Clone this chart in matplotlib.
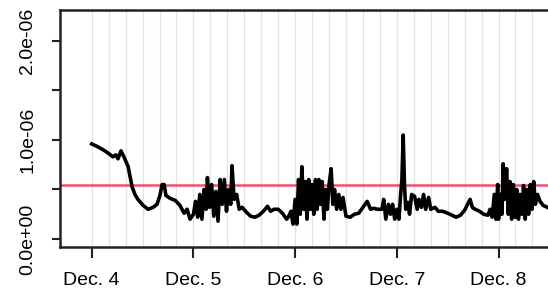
import numpy as np
import matplotlib
matplotlib.use('Agg')
from matplotlib import pyplot as plt

plt.rcParams['font.family'] = ['Liberation Sans', 'DejaVu Sans']

# hours after midnight of each day, values in units of 1e-7
dec4_hours = [0.0, 1.5, 3.1, 4.1, 5.0, 5.7, 6.2, 6.9, 7.6, 8.6, 9.5, 10.2, 10.9, 12.1, 13.3,
              14.5, 15.4, 16.1, 16.6, 17.1, 17.5, 18.5, 19.7, 20.8, 21.8, 22.5, 23.2]
dec4_vals = [9.6, 9.3, 8.9, 8.6, 8.3, 8.5, 8.1, 8.9, 8.3, 7.3, 5.3, 4.5, 4.0, 3.4, 3.0,
             3.2, 3.5, 4.4, 5.5, 5.5, 4.4, 4.1, 3.9, 3.4, 2.6, 3.0, 2.0]

dec5_hours = [0.0, 0.5, 1.0, 1.5, 2.0, 2.5, 3.0, 3.3, 3.8, 4.3, 4.8, 5.3, 5.8, 6.3, 6.8, 7.3,
              7.8, 8.3, 8.8, 9.1, 9.6, 10.2, 10.8, 11.5, 12.5, 13.5, 14.5, 15.5, 16.5, 17.5,
              18.2, 19.0, 20.0, 21.0, 22.0, 22.5, 23.0, 23.5]
dec5_vals = [2.5, 3.8, 2.2, 4.5, 2.0, 5.0, 3.0, 6.2, 3.2, 5.5, 2.3, 4.8, 1.8, 6.0, 3.5, 6.0,
             2.8, 5.0, 3.5, 7.4, 4.0, 4.5, 3.0, 3.2, 2.7, 2.3, 2.2, 2.4, 2.8, 3.3,
             2.8, 3.0, 3.0, 2.6, 2.0, 2.3, 2.8, 1.5]

dec6_hours = [0.0, 0.4, 0.8, 1.2, 1.6, 2.0, 2.4, 2.8, 3.2, 3.6, 4.0, 4.4, 4.8, 5.2, 5.6, 6.0,
              6.4, 6.8, 7.2, 7.6, 8.0, 8.5, 8.9, 9.3, 9.8, 10.3, 10.8, 11.3, 12.0, 13.0,
              14.0, 15.0, 16.0, 17.0, 17.8, 18.5, 19.5, 20.5, 20.9, 21.4, 22.0, 22.5, 23.0, 23.5]
dec6_vals = [4.0, 1.5, 6.0, 2.5, 7.3, 3.0, 5.8, 2.0, 6.0, 3.0, 5.5, 2.5, 6.0, 3.0, 6.0, 3.5,
             5.8, 2.0, 5.0, 3.0, 5.5, 7.1, 3.5, 5.0, 3.0, 4.5, 3.0, 4.2, 2.3, 2.2,
             2.5, 2.6, 3.2, 3.8, 3.0, 3.1, 3.0, 3.0, 4.0, 2.0, 3.5, 2.5, 3.5, 2.0]

dec7_hours = [0.0, 0.5, 0.9, 1.2, 1.5, 1.8, 2.1, 2.6, 3.0, 3.5, 4.2, 4.8, 5.2, 5.8, 6.3, 6.8,
              7.5, 8.0, 9.0, 9.8, 10.8, 12.0, 13.0, 14.0, 15.0, 16.0, 16.8, 17.3, 17.8, 18.5,
              19.5, 20.5, 21.5, 22.0, 22.5, 23.0, 23.4, 23.8]
dec7_vals = [3.0, 2.0, 4.5, 6.0, 10.5, 5.5, 3.0, 3.7, 2.5, 4.5, 4.3, 3.0, 4.0, 3.2, 4.5, 3.0,
             4.2, 3.0, 3.2, 2.8, 2.8, 2.6, 2.4, 2.2, 2.4, 2.9, 3.6, 4.0, 3.2, 3.0,
             2.8, 2.5, 2.4, 3.0, 2.2, 4.5, 2.0, 5.5]

dec8_hours = [0.0, 0.4, 0.8, 1.1, 1.5, 1.9, 2.3, 2.7, 3.1, 3.5, 3.9, 4.3, 4.7, 5.1, 5.5, 5.9,
              6.3, 6.7, 7.1, 7.5, 7.9, 8.3, 8.7, 9.2, 9.8, 10.5, 11.5]
dec8_vals = [2.0, 4.5, 2.5, 7.6, 4.0, 7.1, 2.5, 5.8, 2.0, 5.5, 2.2, 5.0, 2.0, 4.5, 2.5, 5.4,
             2.0, 5.0, 2.5, 5.5, 3.0, 5.8, 3.5, 4.5, 3.8, 3.4, 3.2]

threshold = 5.5e-7
day_labels = ['Dec. 4', 'Dec. 5', 'Dec. 6', 'Dec. 7', 'Dec. 8']

days = [(dec4_hours, dec4_vals), (dec5_hours, dec5_vals), (dec6_hours, dec6_vals),
        (dec7_hours, dec7_vals), (dec8_hours, dec8_vals)]
t = np.concatenate([d + np.array(h) / 24.0 for d, (h, v) in enumerate(days)])
y = np.concatenate([np.array(v) * 1e-7 for h, v in days])

fig = plt.figure(figsize=(5.48, 3.0), dpi=100)
ax = fig.add_axes([60 / 548, 53 / 300, 560 / 548, 237 / 300])

for g in np.arange(0, 5.01, 1 / 6):  # 4-hour grid
    ax.axvline(g, color='#e3e3e3', lw=0.9, zorder=0)

ax.axhline(threshold, color='#f2506e', lw=1.8, zorder=2)
ax.plot(t, y, color='black', lw=2.6, zorder=3, solid_joinstyle='round')

ax.set_xlim(-0.312, -0.312 + 560 / 101.7)
ax.set_ylim(-0.081e-6, 2.313e-6)

ax.set_xticks(range(5))
ax.set_xticklabels(day_labels, fontsize=14)
ax.set_yticks([0, 0.5e-6, 1e-6, 1.5e-6, 2e-6])
ax.set_yticklabels(['0.0e+00', '', '1.0e-06', '', '2.0e-06'], rotation=90, va='center', fontsize=14)
ax.tick_params(axis='x', length=8, width=1.5, color='#222222', pad=10)
ax.tick_params(axis='y', length=6, width=1.5, color='#222222', pad=11)
for s in ax.spines.values():
    s.set_linewidth(1.8)
    s.set_color('#222222')

fig.savefig('out.png', dpi=100)
